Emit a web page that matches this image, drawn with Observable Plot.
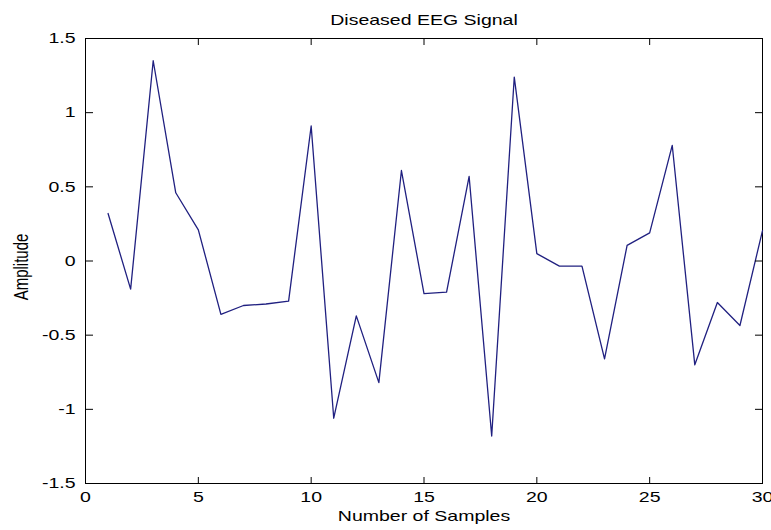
<!DOCTYPE html>
<html><head><meta charset="utf-8">
<script src="https://cdn.jsdelivr.net/npm/d3@7"></script>
<script src="https://cdn.jsdelivr.net/npm/@observablehq/plot@0.6"></script>
<style>body{margin:0;background:#fff;} svg{display:block}</style>
</head><body><div id="chart"></div>
<script>
const title = "Diseased EEG Signal";
const xLabel = "Number of Samples";
const yLabel = "Amplitude";
const sampleIndex = [1,2,3,4,5,6,7,8,9,10,11,12,13,14,15,16,17,18,19,20,21,22,23,24,25,26,27,28,29,30];
const amplitude = [0.32,-0.19,1.35,0.46,0.21,-0.36,-0.30,-0.29,-0.27,0.91,-1.06,-0.37,-0.82,0.61,-0.22,-0.21,0.57,-1.18,1.24,0.05,-0.035,-0.035,-0.66,0.105,0.19,0.78,-0.70,-0.28,-0.435,0.205];
const xTicks = [0,5,10,15,20,25,30];
const yTicks = [-1.5,-1,-0.5,0,0.5,1,1.5];

const data = sampleIndex.map((s,i)=>({sample:s, amplitude: amplitude[i]}));
const font = "'Liberation Sans', Arial, sans-serif";
const stretch = 1.3; // the reference's text is widened horizontally

const chart = Plot.plot({
  width: 771, height: 530,
  marginLeft: 85, marginRight: 9, marginTop: 38, marginBottom: 47,
  style: {fontFamily: font, fontSize: "15px", color:"#000", background:"#fff"},
  x: {domain:[0,30]},
  y: {domain:[-1.5,1.5]},
  marks: [
    Plot.frame({stroke:"#000", strokeWidth:1}),
    Plot.line(data, {x:"sample", y:"amplitude", stroke:"#202080", strokeWidth:1.3}),
    Plot.axisX(xTicks, {anchor:"bottom", tickSize:0, tickPadding:8, label:null, tickFormat: d=>String(d)}),
    Plot.axisX(xTicks, {anchor:"top", frameAnchor:"bottom", tickSize:7, text:null, label:null}),
    Plot.axisX(xTicks, {anchor:"bottom", frameAnchor:"top", tickSize:7, text:null, label:null}),
    Plot.axisY(yTicks, {anchor:"left", tickSize:0, tickPadding:10, label:null, tickFormat: d=>String(d)}),
    Plot.axisY(yTicks, {anchor:"right", frameAnchor:"left", tickSize:7, text:null, label:null}),
    Plot.axisY(yTicks, {anchor:"left", frameAnchor:"right", tickSize:7, text:null, label:null}),
    Plot.text([title], {frameAnchor:"top", dy:-24, text: d=>d, fontSize:15}),
    Plot.text([xLabel], {frameAnchor:"bottom", dy:37, text: d=>d, fontSize:15}),
    Plot.text([yLabel], {frameAnchor:"left", textAnchor:"middle", rotate:-90, dx:-64, dy:6, text: d=>d, fontSize:15, ariaLabel:"y-label"})
  ]
});
document.getElementById("chart").appendChild(chart);

// widen text horizontally to match the reference's aspect
d3.select(chart).selectAll("text").each(function(){
  const isY = (el) => el && el.getAttribute && el.getAttribute("aria-label") === "y-label";
  const t = this.getAttribute("transform") || "";
  if (isY(this) || isY(this.parentNode) || t.includes("rotate")) {
    // rotated label: widen across its height (screen x)
    this.setAttribute("transform", t + ` scale(1,${stretch})`);
    return;
  }
  const w = this.getComputedTextLength();
  if (w > 0) {
    this.setAttribute("textLength", (w * stretch).toFixed(2));
    this.setAttribute("lengthAdjust", "spacingAndGlyphs");
  }
});
</script>
</body></html>
